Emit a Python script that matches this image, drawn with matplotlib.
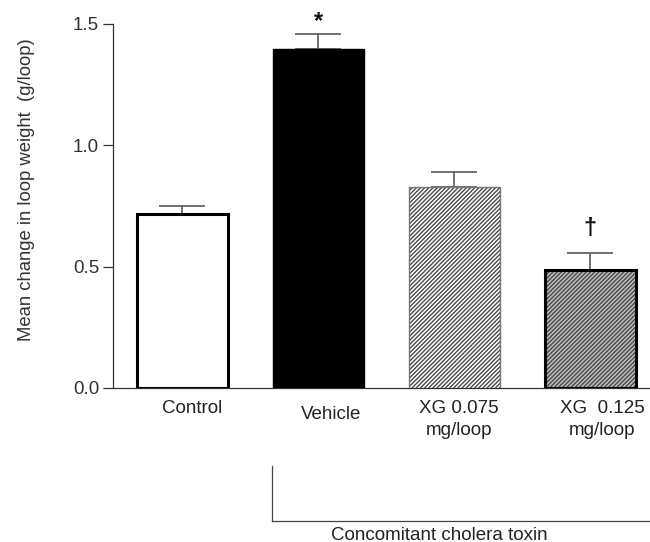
import matplotlib
matplotlib.use("Agg")
import matplotlib.pyplot as plt
import matplotlib.transforms as mtrans
import numpy as np

# ── Data ────────────────────────────────────────────────────────────────────
groups = ["Control", "Vehicle", "XG 0.075\nmg/loop", "XG  0.125\nmg/loop"]
means = [0.717, 1.396, 0.827, 0.486]
sems = [0.035, 0.063, 0.062, 0.071]
marks = ["", "*", "", "\u2020"]
yticks = [0.0, 0.5, 1.0, 1.5]

plt.rcParams["font.family"] = ["Liberation Sans", "DejaVu Sans"]

fig = plt.figure(figsize=(6.5, 5.42), dpi=100)
ax = fig.add_axes([113 / 650, 154 / 542, 537 / 650, 364 / 542])

x = np.arange(len(groups))
w = 0.67

# bar styles
ax.bar(x[0], means[0], w, facecolor="white", edgecolor="black", linewidth=2.2, zorder=3)
ax.bar(x[1], means[1], w, facecolor="black", edgecolor="black", linewidth=1, zorder=3)
ax.bar(x[2], means[2], w, facecolor="white", edgecolor="#4a4a4a", linewidth=0,
       hatch="////////", zorder=3)
ax.bar(x[2], means[2], w, fill=False, edgecolor="#777777", linewidth=1.0, zorder=4)
ax.bar(x[3], means[3], w, facecolor="#bcbcbc", edgecolor="#4a4a4a", linewidth=0,
       hatch="////////", zorder=3)
ax.bar(x[3], means[3], w, fill=False, edgecolor="black", linewidth=2.2, zorder=4)

ax.errorbar(x, means, yerr=[np.zeros(len(sems)), sems], fmt="none",
            ecolor="#666666", elinewidth=1.3, capsize=16.5, capthick=1.3, zorder=2)

# significance marks
mark_gap = {"*": 0.05, "\u2020": 0.10}
mark_size = {"*": 17, "\u2020": 17}
for xi, m, s, mk in zip(x, means, sems, marks):
    if mk:
        ax.text(xi, m + s + mark_gap[mk], mk, ha="center", va="center",
                fontsize=mark_size[mk], fontweight="bold", color="#111111")

ax.set_xlim(-0.51, 3.44)
ax.set_ylim(0, 1.5)
ax.set_yticks(yticks)
ax.set_yticklabels([f"{t:.1f}" for t in yticks], fontsize=13.5, color="#333333")
ax.tick_params(axis="y", direction="out", length=7, width=0.9, color="#333333", pad=3)
ax.tick_params(axis="x", length=0, labelbottom=False)
for side in ["top", "right"]:
    ax.spines[side].set_visible(False)
for side in ["left", "bottom"]:
    ax.spines[side].set_linewidth(0.9)
    ax.spines[side].set_color("#333333")

fig.text(27 / 650, 1 - 190 / 542, "Mean change in loop weight  (g/loop)", rotation=90,
         ha="center", va="center", fontsize=13.3, color="#333333")

# category labels
trans = mtrans.blended_transform_factory(ax.transData, fig.transFigure)
label_dx = [0.07, 0.095, 0.035, 0.09]
label_y = [1 - 400 / 542, 1 - 406 / 542, 1 - 400 / 542, 1 - 400 / 542]
for xi, lab, dx, ly in zip(x, groups, label_dx, label_y):
    ax.text(xi + dx, ly, lab, transform=trans, ha="center", va="top",
            fontsize=13.5, color="#222222", linespacing=1.4)

# bracket for cholera toxin groups
fig.add_artist(plt.Line2D([272 / 650, 272 / 650], [1 - 466 / 542, 1 - 521 / 542],
                          color="#444444", linewidth=0.9))
fig.add_artist(plt.Line2D([272 / 650, 1.0], [1 - 521 / 542, 1 - 521 / 542],
                          color="#444444", linewidth=0.9))
fig.text(439 / 650, 1 - 535 / 542, "Concomitant cholera toxin", ha="center", va="center",
         fontsize=13.5, color="#222222")

fig.savefig("out.png", dpi=100)
